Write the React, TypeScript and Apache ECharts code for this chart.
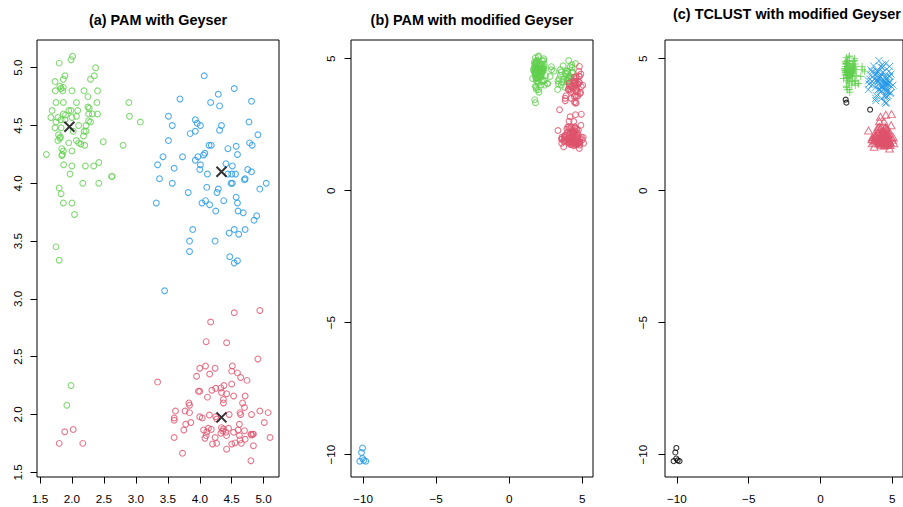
import React, { useEffect, useRef } from "react";
import * as echarts from "echarts";

// ---- data ----
// short-eruption cluster (green in a, b, c)
const shortCore: number[][] = [
  [1.80,5.04],[2.01,5.10],[1.985,5.07],[1.735,4.88],[1.89,4.93],[1.865,4.90],[2.37,5.00],[2.35,4.93],[2.29,4.90],[1.81,4.84],
  [1.74,4.80],[1.83,4.82],[1.865,4.83],[1.855,4.80],[2.00,4.80],[2.19,4.80],[2.40,4.80],[2.25,4.75],[1.75,4.70],[1.865,4.70],
  [2.07,4.70],[2.39,4.70],[2.89,4.70],[1.69,4.63],[1.865,4.60],[1.95,4.63],[1.985,4.63],[2.09,4.63],[2.25,4.66],[2.27,4.65],
  [2.26,4.60],[2.40,4.60],[2.32,4.60],[1.67,4.57],[1.78,4.57],[1.90,4.59],[2.00,4.57],[2.07,4.58],[1.83,4.55],[1.89,4.55],
  [1.75,4.53],[2.26,4.54],[2.29,4.53],[2.90,4.58],[3.07,4.53],[1.735,4.48],[1.83,4.48],[2.105,4.50],[2.22,4.50],[2.02,4.45],
  [1.79,4.42],[1.82,4.40],[1.81,4.39],[1.78,4.37],[2.19,4.45],[2.22,4.45],[2.18,4.41],[2.07,4.37],[2.105,4.35],[2.14,4.34],
  [1.95,4.35],[2.20,4.33],[2.49,4.36],[2.80,4.33],[1.84,4.30],[1.865,4.28],[1.85,4.25],[1.84,4.24],[2.00,4.28],[1.60,4.25],
  [1.87,4.16],[2.00,4.15],[2.21,4.15],[2.34,4.15],[2.42,4.18],[2.63,4.06],[2.62,4.06],[1.97,4.08],[2.17,4.00],[2.42,4.00],
  [1.80,3.96],[1.83,3.91],[1.865,3.83],[2.00,3.83],[2.04,3.73]
];
const shortTrimmed: number[][] = [[1.75,3.45],[1.80,3.335]];
const shortLow: number[][] = [[1.985,2.25],[1.92,2.08]];

// long-long cluster (blue in a and c), split as seen in b
const longUpper: number[][] = [
  [4.07,4.93],[4.54,4.82],[3.69,4.73],[4.29,4.77],[4.17,4.70],[4.31,4.67],[3.51,4.58],[3.57,4.50],[3.93,4.55],[3.96,4.52],
  [4.01,4.50],[4.34,4.50],[4.31,4.46],[3.85,4.43],[3.93,4.45],[3.51,4.37],[4.145,4.33],[4.18,4.33],[4.08,4.26],[4.06,4.245],
  [3.97,4.23],[3.73,4.23],[3.425,4.23],[3.34,4.16],[3.93,4.20],[4.01,4.16],[3.60,4.13],[4.00,4.12],[3.37,4.04],[3.57,4.00],
  [3.82,3.92],[3.32,3.83]
];
const longLower: number[][] = [
  [4.81,4.71],[4.77,4.53],[4.91,4.42],[4.44,4.30],[4.57,4.32],[4.78,4.35],[4.82,4.33],[4.59,4.25],[4.12,4.08],[4.41,4.17],
  [4.51,4.15],[4.75,4.12],[4.81,4.10],[4.44,4.08],[4.50,4.08],[4.56,4.08],[4.71,4.04],[4.11,3.965],[4.29,3.95],[4.27,3.92],
  [4.49,4.00],[4.51,4.00],[4.70,4.03],[4.94,3.95],[5.04,4.00],[4.035,3.83],[4.09,3.85],[4.155,3.815],[4.375,3.85],[4.57,3.88],
  [4.59,3.83],[4.25,3.76],[4.60,3.76],[4.68,3.745],[4.89,3.72],[4.85,3.68],[3.89,3.60],[3.84,3.50],[4.24,3.50],[4.46,3.57],
  [4.54,3.60],[4.61,3.56],[4.71,3.60],[3.84,3.41],[4.47,3.365],[4.54,3.31],[4.59,3.33]
];
const longTrimmed: number[][] = [[3.45,3.07]];

// long-short cluster (red)
const lowerCore: number[][] = [
  [4.54,2.88],[4.94,2.90],[4.17,2.80],[4.10,2.63],[4.42,2.62],[4.91,2.48],[3.34,2.28],[4.00,2.40],[4.09,2.42],[4.24,2.40],
  [4.51,2.42],[3.62,2.03],[3.60,1.97],[3.60,1.95],[3.60,1.80],
  [3.95,2.33],[4.155,2.35],[4.50,2.375],[4.59,2.36],[4.64,2.32],[4.74,2.295],[4.50,2.264],[4.38,2.25],[4.33,2.23],[4.25,2.226],
  [4.19,2.21],[3.98,2.20],[4.00,2.20],[4.34,2.19],[4.42,2.18],[4.53,2.16],[4.12,2.15],[4.71,2.16],[4.37,2.13],[4.37,2.10],
  [4.67,2.10],[4.70,2.06],[3.83,2.10],[3.84,2.08],[3.77,2.03],[3.84,2.016],[4.00,1.98],[4.04,1.97],[4.15,1.995],[4.25,1.98],
  [4.265,1.96],[4.46,2.00],[4.63,2.016],[4.64,2.00],[4.81,2.00],[4.94,2.03],[5.07,2.016],[3.78,1.915],[3.86,1.93],[3.75,1.866],
  [4.62,1.915],[5.01,1.93],[4.06,1.866],[4.135,1.88],[4.18,1.87],[4.11,1.85],[4.10,1.817],[4.08,1.794],[4.34,1.886],[4.37,1.875],
  [4.45,1.88],[4.33,1.837],[4.41,1.846],[4.36,1.857],[4.53,1.846],[4.60,1.866],[4.70,1.86],[4.80,1.83],[4.83,1.83],[4.84,1.83],
  [4.81,1.823],[4.24,1.80],[4.42,1.817],[4.62,1.817],[4.63,1.78],[4.71,1.785],[4.20,1.745],[4.265,1.75],[4.50,1.745],[4.55,1.754],
  [4.65,1.75],[5.10,1.80],[4.84,1.73],[4.42,1.70],[3.73,1.664],[4.80,1.60]
];
const lowerLeft: number[][] = [[1.80,1.75],[1.886,1.85],[2.02,1.87],[2.17,1.75]];

// added outliers (modified Geyser)
const outliers: number[][] = [[-10.04,-9.75],[-10.11,-9.92],[-10.23,-10.25],[-9.82,-10.25],[-10.04,-10.15],[-9.95,-10.22]];

// PAM medoids in panel (a)
const medoids: number[][] = [[1.96,4.49],[4.34,4.10],[4.34,1.975]];

const ticksA: number[] = [1.5, 2.0, 2.5, 3.0, 3.5, 4.0, 4.5, 5.0];
const ticksB: number[] = [-10, -5, 0, 5];
const titles: string[] = ["(a) PAM with Geyser", "(b) PAM with modified Geyser", "(c) TCLUST with modified Geyser"];

const RED = "#DF536B";
const GREEN = "#61D04F";
const BLUE = "#2297E6";
const FONT = '"Liberation Sans", Arial, Helvetica, sans-serif';

const fmtA = (v: number) => v.toFixed(1);
const fmtB = (v: number) => (v < 0 ? "\u2212" + Math.abs(v) : String(v));

function xAxis(gridIndex: number, min: number, max: number, ticks: number[], fmt: (v: number) => string, margin: number) {
  return {
    type: "value", gridIndex, min, max,
    axisLine: { show: false, onZero: false },
    splitLine: { show: false },
    axisTick: { show: true, length: 6.5, customValues: ticks, lineStyle: { color: "#000", width: 1 } },
    axisLabel: { customValues: ticks, formatter: fmt, margin, color: "#000", fontSize: 11.7, fontFamily: FONT },
  };
}
function yAxis(gridIndex: number, min: number, max: number, ticks: number[], fmt: (v: number) => string, margin: number) {
  return {
    type: "value", gridIndex, min, max,
    axisLine: { show: false, onZero: false },
    splitLine: { show: false },
    axisTick: { show: true, length: 6.5, customValues: ticks, lineStyle: { color: "#000", width: 1 } },
    axisLabel: { customValues: ticks, formatter: fmt, margin, rotate: 90, color: "#000", fontSize: 11.7, fontFamily: FONT },
  };
}

const PLUS = "path://M5,0L5,10M0,5L10,5";
const CROSS = "path://M0,0L10,10M0,10L10,0";

function circles(idx: number, data: number[][], color: string, size = 5.8) {
  return {
    type: "scatter", xAxisIndex: idx, yAxisIndex: idx, data, symbol: "circle", symbolSize: size,
    itemStyle: { color: "rgba(0,0,0,0)", borderColor: color, borderWidth: 1.1 },
    emphasis: { disabled: true }, silent: true,
  };
}
function marks(idx: number, data: number[][], color: string, symbol: string, size: any, width = 1) {
  return {
    type: "scatter", xAxisIndex: idx, yAxisIndex: idx, data, symbol, symbolSize: size,
    itemStyle: { color: "rgba(0,0,0,0)", borderColor: color, borderWidth: width },
    emphasis: { disabled: true }, silent: true,
  };
}

export default function App() {
  const ref = useRef<HTMLDivElement>(null);
  useEffect(() => {
    if (!ref.current) return;
    const chart = echarts.init(ref.current, undefined, { renderer: "svg" });
    const gridBase = { top: 40, width: 242, height: 437, show: true, borderColor: "#000", borderWidth: 1, backgroundColor: "rgba(0,0,0,0)", containLabel: false };
    chart.setOption({
      animation: false,
      backgroundColor: "#fff",
      grid: [
        { ...gridBase, left: 37 },
        { ...gridBase, left: 351 },
        { ...gridBase, left: 665 },
      ],
      xAxis: [
        xAxis(0, 1.453, 5.24, ticksA, fmtA, 15),
        xAxis(1, -10.83, 5.74, ticksB, fmtB, 15),
        xAxis(2, -10.83, 5.74, ticksB, fmtB, 15),
      ],
      yAxis: [
        yAxis(0, 1.459, 5.24, ticksA, fmtA, 13.5),
        yAxis(1, -10.85, 5.71, ticksB, fmtB, 14.5),
        yAxis(2, -10.85, 5.71, ticksB, fmtB, 17),
      ],
      graphic: [
        { type: "text", x: 158, y: 19.5, style: { text: titles[0], font: `bold 14.4px ${FONT}`, fill: "#000", align: "center", verticalAlign: "middle", textAlign: "center", textVerticalAlign: "middle" } },
        { type: "text", x: 472, y: 19.5, style: { text: titles[1], font: `bold 14.4px ${FONT}`, fill: "#000", align: "center", verticalAlign: "middle", textAlign: "center", textVerticalAlign: "middle" } },
        { type: "text", x: 787, y: 13.7, style: { text: titles[2], font: `bold 14.4px ${FONT}`, fill: "#000", align: "center", verticalAlign: "middle", textAlign: "center", textVerticalAlign: "middle" } },
      ],
      series: [
        // (a)
        circles(0, [...shortCore, ...shortTrimmed, ...shortLow], GREEN),
        circles(0, [...longUpper, ...longLower, ...longTrimmed], BLUE),
        circles(0, [...lowerCore, ...lowerLeft], RED),
        marks(0, medoids, "#000", CROSS, 10, 2),
        // (b)
        circles(1, [...shortCore, ...shortTrimmed, ...longUpper], GREEN),
        circles(1, [...longLower, ...longTrimmed, ...lowerCore], RED),
        circles(1, outliers, BLUE),
        // (c)
        marks(2, shortCore, GREEN, PLUS, 7.5),
        marks(2, [...longUpper, ...longLower], BLUE, CROSS, 7),
        marks(2, lowerCore, RED, "triangle", [8, 7]),
        circles(2, [...shortTrimmed, ...longTrimmed, ...outliers], "#000", 5),
      ],
    });
    return () => chart.dispose();
  }, []);
  return <div ref={ref} style={{ position: "absolute", left: 0, top: 0, width: 903, height: 507, background: "#fff" }} />;
}
